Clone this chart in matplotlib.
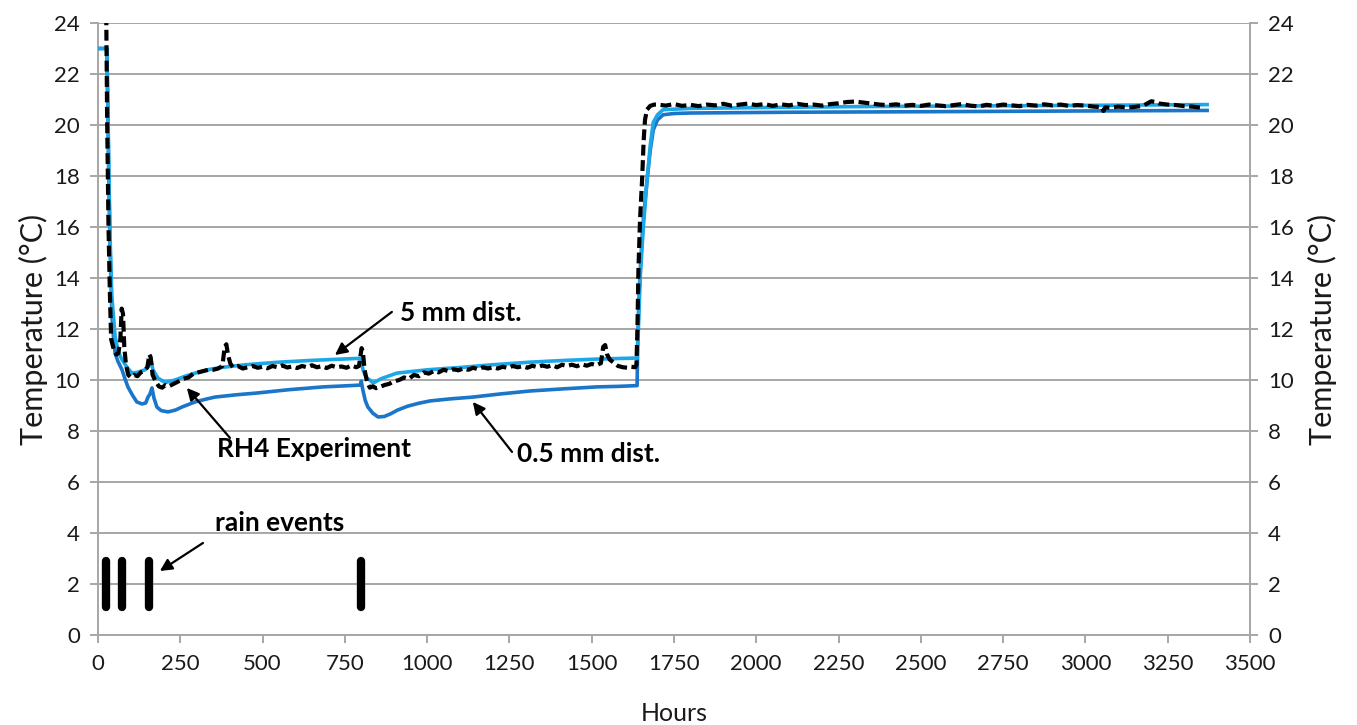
import matplotlib.pyplot as plt

plt.rcParams['font.family'] = ['Lato', 'DejaVu Sans']

# 0.5 mm distance (model)
m05_hours = [0, 27, 30, 33, 37, 42, 47, 52, 60, 73, 82, 91, 105, 118, 134, 145, 152, 158, 164,
             170, 179, 192, 213, 235, 255, 275, 295, 325, 355, 420, 483, 580, 684, 750, 797,
             800, 805, 812, 820, 835, 851, 870, 890, 910, 940, 975, 1009, 1070, 1139, 1220,
             1313, 1410, 1516, 1580, 1638, 1640, 1643, 1647, 1655, 1668, 1678, 1687, 1700,
             1717, 1750, 1800, 2100, 2500, 3000, 3370]
m05_temp = [23.0, 23.0, 20.5, 17.8, 15.0, 12.6, 11.7, 11.06, 10.75, 10.4, 10.05, 9.73, 9.4,
            9.14, 9.06, 9.1, 9.33, 9.45, 9.69, 9.3, 8.94, 8.8, 8.75, 8.82, 8.94, 9.04, 9.14,
            9.24, 9.33, 9.42, 9.49, 9.62, 9.73, 9.77, 9.8, 9.95, 9.6, 9.2, 8.94, 8.7, 8.55,
            8.57, 8.68, 8.82, 8.97, 9.09, 9.18, 9.26, 9.33, 9.45, 9.57, 9.65, 9.73, 9.75,
            9.78, 11.5, 13.0, 14.2, 16.0, 17.8, 19.0, 19.8, 20.2, 20.4, 20.45, 20.47, 20.5,
            20.52, 20.55, 20.57]

# 5 mm distance (model)
m5_hours = [0, 27, 30, 33, 37, 42, 52, 62, 73, 88, 103, 120, 143, 155, 161, 167, 182, 204,
            234, 265, 295, 340, 380, 450, 550, 650, 796, 800, 805, 815, 826, 836, 860, 908,
            1000, 1109, 1200, 1313, 1420, 1516, 1632, 1638, 1642, 1647, 1657, 1668, 1678,
            1687, 1700, 1717, 1800, 2000, 2300, 2700, 3000, 3370]
m5_temp = [23.0, 23.0, 20.8, 18.2, 15.5, 13.3, 11.7, 11.1, 10.8, 10.5, 10.27, 10.3, 10.4,
           10.55, 10.8, 10.4, 10.08, 9.9, 10.0, 10.15, 10.27, 10.42, 10.5, 10.6, 10.7, 10.77,
           10.85, 10.8, 10.4, 10.1, 10.0, 9.88, 10.05, 10.27, 10.4, 10.5, 10.6, 10.7, 10.77,
           10.82, 10.86, 10.87, 12.0, 13.9, 16.0, 17.8, 19.2, 20.1, 20.4, 20.6, 20.65, 20.68,
           20.72, 20.75, 20.77, 20.8]

# RH4 experiment (measured)
exp_hours = [24, 28, 32, 36, 40, 48, 55, 62, 68, 72, 76, 80, 85, 92, 100, 110, 120, 130, 140,
             150, 156, 160, 166, 175, 185, 195, 205, 215, 230, 245, 260, 275, 290, 305, 320,
             335, 350, 365, 378, 385, 390, 395, 402, 410, 425, 440, 455, 470, 485, 500, 515,
             530, 545, 560, 575, 590, 605, 620, 635, 650, 665, 680, 695, 710, 725, 740, 755,
             770, 785, 793, 797, 801, 805, 810, 818, 826, 835, 845, 857, 870, 885, 900, 915,
             930, 945, 960, 975, 990, 1005, 1020, 1035, 1050, 1065, 1080, 1095, 1110, 1125,
             1140, 1155, 1170, 1185, 1200, 1215, 1230, 1245, 1260, 1275, 1290, 1305, 1320,
             1335, 1350, 1365, 1380, 1395, 1410, 1425, 1440, 1455, 1470, 1485, 1500, 1515,
             1528, 1535, 1541, 1547, 1555, 1565, 1580, 1595, 1610, 1620, 1632, 1636, 1639,
             1642, 1647, 1653, 1658, 1662, 1668, 1678, 1690, 1700, 1725, 1750, 1775, 1800,
             1825, 1850, 1875, 1900, 1925, 1950, 1975, 2000, 2025, 2050, 2075, 2100, 2125,
             2150, 2175, 2200, 2225, 2250, 2275, 2300, 2325, 2350, 2375, 2400, 2425, 2450,
             2475, 2500, 2525, 2550, 2575, 2600, 2625, 2650, 2675, 2700, 2725, 2750, 2775,
             2800, 2825, 2850, 2875, 2900, 2925, 2950, 2975, 3000, 3025, 3050, 3055, 3060,
             3075, 3100, 3125, 3150, 3175, 3200, 3215, 3225, 3250, 3275, 3300, 3325, 3350,
             3357]
exp_temp = [26.0, 20.0, 16.0, 13.5, 11.6, 11.2, 11.0, 11.05, 11.6, 12.8, 12.6, 11.3, 10.6,
            10.2, 10.1, 10.2, 10.15, 10.3, 10.35, 10.5, 11.0, 10.9, 10.2, 9.95, 9.75, 9.7, 9.8,
            9.75, 9.85, 9.95, 10.05, 10.1, 10.25, 10.3, 10.35, 10.4, 10.4, 10.45, 10.55, 11.3,
            11.4, 11.0, 10.65, 10.5, 10.55, 10.45, 10.5, 10.55, 10.48, 10.52, 10.46, 10.55,
            10.5, 10.57, 10.49, 10.53, 10.47, 10.55, 10.5, 10.58, 10.5, 10.54, 10.47, 10.56,
            10.5, 10.53, 10.48, 10.57, 10.5, 10.55, 10.9, 11.25, 11.1, 10.4, 9.9, 9.7, 9.75,
            9.68, 9.73, 9.8, 9.85, 9.95, 10.0, 10.1, 10.05, 10.2, 10.15, 10.3, 10.25, 10.35,
            10.3, 10.4, 10.35, 10.42, 10.38, 10.45, 10.4, 10.48, 10.42, 10.5, 10.45, 10.5,
            10.45, 10.52, 10.47, 10.55, 10.5, 10.54, 10.48, 10.56, 10.5, 10.57, 10.52, 10.58,
            10.5, 10.6, 10.55, 10.6, 10.54, 10.62, 10.56, 10.63, 10.58, 10.66, 11.3, 11.37,
            11.0, 10.8, 10.7, 10.55, 10.5, 10.48, 10.52, 10.5, 10.6, 12.0, 14.3, 16.3, 17.8,
            19.4, 20.2, 20.6, 20.75, 20.8, 20.8, 20.76, 20.82, 20.75, 20.79, 20.74, 20.8,
            20.77, 20.83, 20.76, 20.8, 20.84, 20.78, 20.82, 20.75, 20.81, 20.77, 20.83, 20.78,
            20.8, 20.76, 20.82, 20.85, 20.9, 20.92, 20.88, 20.84, 20.8, 20.78, 20.81, 20.76,
            20.79, 20.75, 20.8, 20.77, 20.74, 20.78, 20.82, 20.76, 20.73, 20.79, 20.75, 20.8,
            20.77, 20.74, 20.79, 20.76, 20.81, 20.77, 20.8, 20.75, 20.78, 20.76, 20.72, 20.7,
            20.55, 20.69, 20.68, 20.72, 20.69, 20.71, 20.75, 20.93, 20.9, 20.84, 20.8, 20.78,
            20.74, 20.72, 20.68, 20.67]

# rain events
rain_hours = [24, 73, 155, 800]
rain_low, rain_high = 1.1, 2.9

x_ticks = list(range(0, 3501, 250))
y_ticks = list(range(0, 25, 2))

grid_col = '#A6A6A6'
text_col = '#1A1A1A'
dark_blue = '#1B75C9'
light_blue = '#1CA7E8'

fig = plt.figure(figsize=(13.57, 7.25), dpi=100)
ax = fig.add_axes([0.0722, 0.1241, 0.8489, 0.8442])

ax.set_xlim(0, 3500)
ax.set_ylim(0, 24)
ax.set_xticks(x_ticks)
ax.set_yticks(y_ticks)
ax.grid(axis='y', color=grid_col, lw=1.4)
ax.set_axisbelow(True)

for s in ['left', 'bottom', 'right']:
    ax.spines[s].set_color(grid_col)
    ax.spines[s].set_linewidth(1.4)
ax.spines['top'].set_visible(False)
ax.tick_params(axis='both', colors=grid_col, labelcolor=text_col, labelsize=16,
               length=6, width=1.4, direction='out')
ax.tick_params(axis='y', pad=7)
ax.tick_params(axis='x', pad=8)

ax.plot(m05_hours, m05_temp, color=dark_blue, lw=2.6, zorder=3)
ax.plot(m5_hours, m5_temp, color=light_blue, lw=2.6, zorder=4)
ax.plot(exp_hours, exp_temp, color='black', lw=3.0, dashes=(2.6, 1.1), zorder=5)

for h in rain_hours:
    ax.plot([h, h], [rain_low, rain_high], color='black', lw=6, solid_capstyle='round', zorder=5)

ax.set_xlabel('Hours', fontsize=18, color=text_col, labelpad=20)
ax.set_ylabel('Temperature (°C)', fontsize=22, color=text_col, labelpad=4)

ax2 = ax.twinx()
ax2.set_ylim(0, 24)
ax2.set_yticks(y_ticks)
for s in ax2.spines.values():
    s.set_visible(False)
ax2.tick_params(axis='y', colors=grid_col, labelcolor=text_col, labelsize=16,
                length=6, width=1.4, pad=7)
ax2.set_ylabel('Temperature (°C)', fontsize=22, color=text_col, labelpad=10)

arrow = dict(arrowstyle='-|>', color='black', lw=1.6, mutation_scale=18, shrinkA=0, shrinkB=0)
# (text, text pos, text align, arrow tail, arrow head)
notes = [
    ('5 mm dist.', (918, 12.63), 'left', (893, 12.67), (720, 10.98)),
    ('RH4 Experiment', (656, 7.29), 'center', (401, 7.73), (270, 9.69)),
    ('0.5 mm dist.', (1273, 7.08), 'left', (1258, 7.18), (1139, 9.14)),
    ('rain events', (553, 4.39), 'center', (319, 3.61), (188, 2.51)),
]
for txt, tpos, ha, tail, head in notes:
    ax.annotate('', xy=head, xytext=tail, arrowprops=arrow, zorder=6)
    ax.text(tpos[0], tpos[1], txt, ha=ha, va='center', fontsize=19, fontweight='bold')

plt.savefig('out.png', dpi=100)
